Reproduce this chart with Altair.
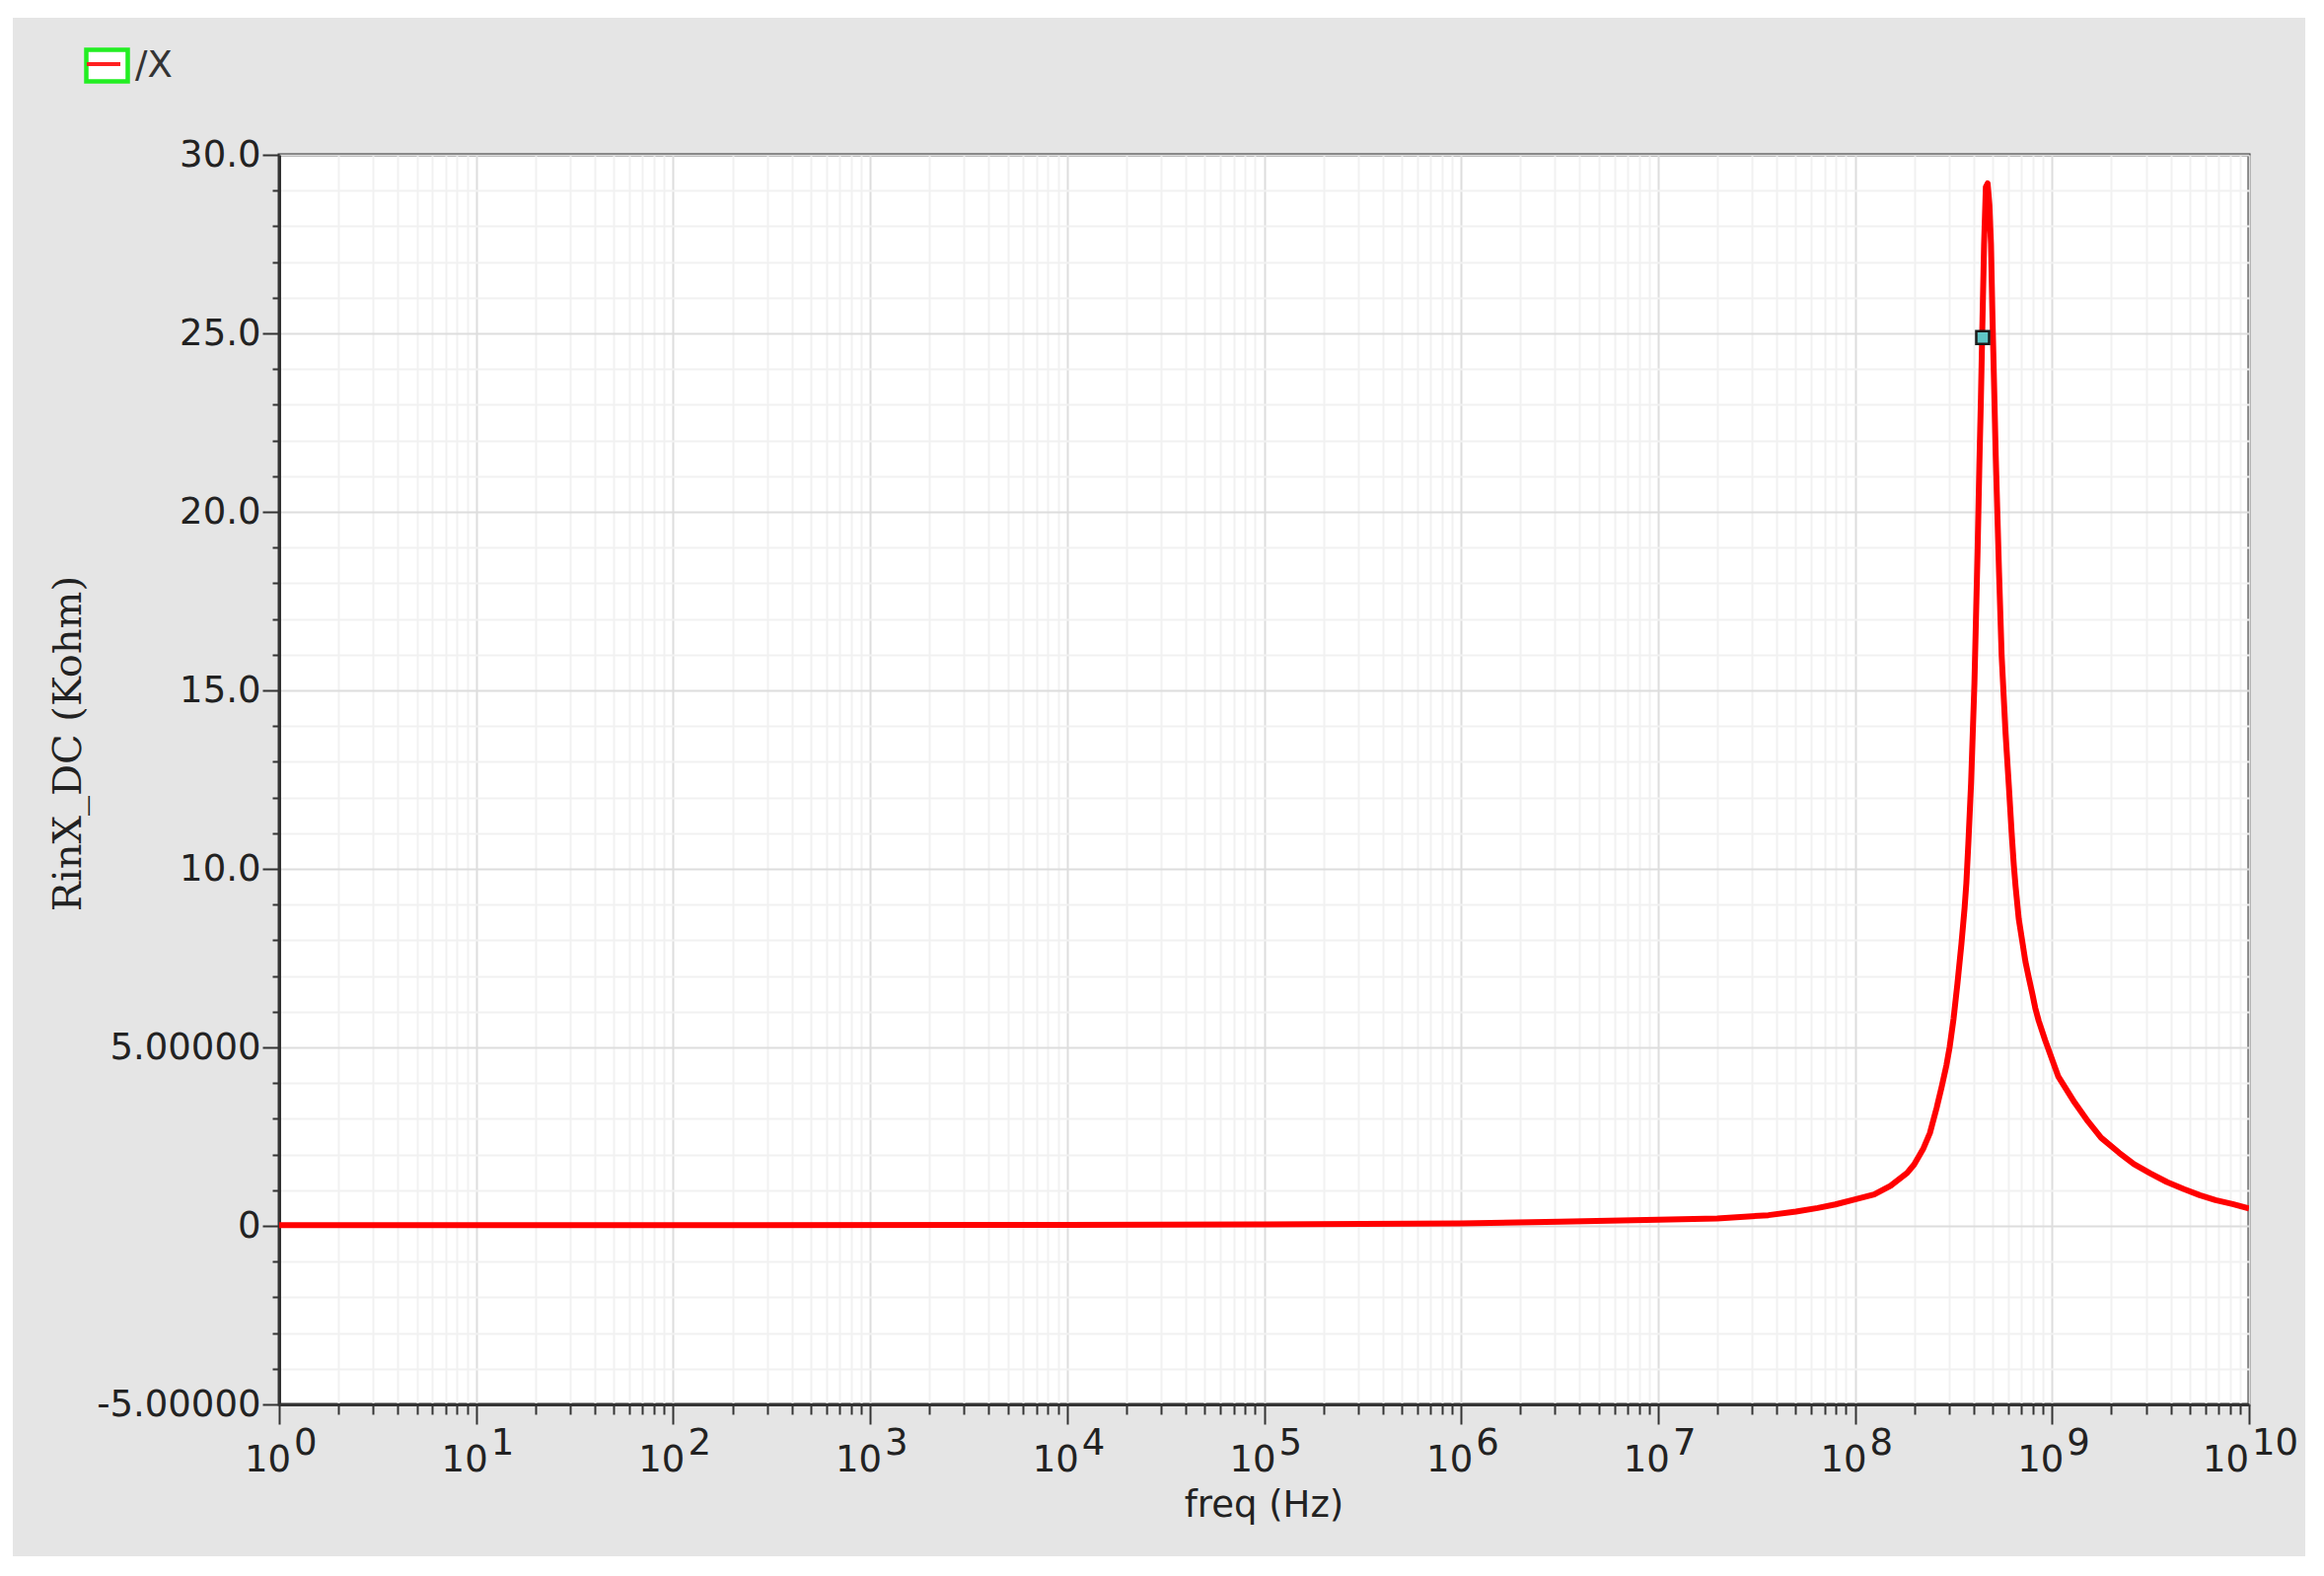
import altair as alt
import pandas as pd

# ---------------- data ----------------
freq_log10 = [0.0, 2.0, 4.0, 5.0, 6.0, 6.5, 7.0, 7.3, 7.56, 7.7, 7.81, 7.9, 8.0,
              8.097, 8.18, 8.264, 8.30, 8.347, 8.38, 8.414, 8.44, 8.464, 8.48,
              8.50, 8.52, 8.54, 8.556, 8.565, 8.575, 8.589, 8.606, 8.622, 8.631,
              8.639, 8.647, 8.655, 8.664, 8.673, 8.682, 8.690, 8.697, 8.706,
              8.714, 8.731, 8.744, 8.764, 8.781, 8.795, 8.806, 8.815, 8.831, 8.848,
              8.865, 8.882, 8.90, 8.915, 8.932, 8.965, 9.032, 9.115, 9.182, 9.249,
              9.34, 9.416, 9.50, 9.583, 9.67, 9.75, 9.83, 9.917, 10.0]
rin_kohm = [0.02, 0.02, 0.03, 0.04, 0.07, 0.12, 0.17, 0.21, 0.30, 0.40, 0.50, 0.60, 0.74,
            0.88, 1.12, 1.48, 1.72, 2.17, 2.6, 3.3, 3.9, 4.5, 5.0,
            5.8, 6.8, 7.9, 8.9, 9.6, 10.7, 12.4, 15.2, 18.9, 21.3,
            23.2, 25.4, 27.5, 29.1, 29.2, 28.6, 27.5, 25.6, 23.5,
            21.6, 18.3, 16.0, 13.8, 12.3, 11.0, 10.1, 9.5, 8.6, 8.0,
            7.4, 6.95, 6.5, 6.1, 5.75, 5.2, 4.18, 3.45, 2.93, 2.47,
            2.05, 1.73, 1.47, 1.23, 1.03, 0.86, 0.72, 0.61, 0.49]

marker_log10 = [8.648]
marker_kohm = [24.88]

x_decades = list(range(0, 11))
x_minor_mult = [1, 2, 3, 4, 5, 6, 7, 8, 9]
y_ticks = list(range(-5, 31))
y_domain = [-5, 30]

legend_label = "/X"
x_title = "freq (Hz)"
y_title = "RinX_DC (Kohm)"

# ---------------- layout ----------------
W, H = 1997, 1267
FONT = "DejaVu Sans"
FS = 37

curve_df = pd.DataFrame({"freq": [10.0 ** e for e in freq_log10], "rin": rin_kohm})
marker_df = pd.DataFrame({"freq": [10.0 ** e for e in marker_log10], "rin": marker_kohm})
x_tick_values = sorted([k * 10.0 ** e for e in x_decades[:-1] for k in x_minor_mult] + [10.0 ** x_decades[-1]])
lab_df = pd.DataFrame({"freq": [10.0 ** e for e in x_decades],
                       "exp": x_decades,
                       "exp_text": [str(e) for e in x_decades]})
one = pd.DataFrame({"a": [0]})

decade_test = "abs(log(datum.value)/LN10 - round(log(datum.value)/LN10)) < 0.001"
five_test = "datum.value % 5 == 0"

x_scale = alt.Scale(type="log", domain=[1, 1e10], nice=False)
y_scale = alt.Scale(domain=y_domain, nice=False, zero=False)

x_axis = alt.Axis(
    values=x_tick_values, labels=False, title=None, grid=True,
    gridColor={"condition": {"test": decade_test, "value": "#dddddd"}, "value": "#f1f1f1"},
    gridWidth=2,
    tickSize={"condition": {"test": decade_test, "value": 20}, "value": 10},
    tickColor="#333333", tickWidth=2, domainColor="#333333", domainWidth=3,
)
y_axis = alt.Axis(
    values=y_ticks, title=None, grid=True,
    gridColor={"condition": {"test": five_test, "value": "#dddddd"}, "value": "#f1f1f1"},
    gridWidth=2,
    tickSize={"condition": {"test": five_test, "value": 17}, "value": 7},
    tickColor="#333333", tickWidth=2, domainColor="#333333", domainWidth=3,
    labelExpr=("datum.value % 5 != 0 ? '' : datum.value == 0 ? '0' : "
               "abs(datum.value) >= 10 ? format(datum.value, '.1f') : "
               "(datum.value < 0 ? '-' : '') + format(abs(datum.value), '.5f')"),
    labelFont=FONT, labelFontSize=FS, labelColor="#222222", labelPadding=2,
    labelOverlap=False,
)

X = alt.X("freq:Q", scale=x_scale, axis=x_axis)
Y = alt.Y("rin:Q", scale=y_scale, axis=y_axis)

curve = alt.Chart(curve_df).mark_line(color="#ff0000", strokeWidth=6, clip=True,
                                      strokeJoin="round").encode(x=X, y=Y)
marker = alt.Chart(marker_df).mark_square(size=170, fill="#5fc6c6", stroke="#1a1a1a",
                                          strokeWidth=2.5, opacity=1).encode(x=X, y=Y)

single = lab_df[lab_df.exp < 10]
double = lab_df[lab_df.exp >= 10]

def base_layer(df, dx):
    return alt.Chart(df).mark_text(text="10", align="right", baseline="alphabetic", dx=dx,
                                   font=FONT, fontSize=FS, color="#222222").encode(
        x=X, y=alt.value(H + 68))

def exp_layer(df, dx):
    return alt.Chart(df).mark_text(align="left", baseline="alphabetic", dx=dx,
                                   font=FONT, fontSize=FS, color="#222222").encode(
        x=X, y=alt.value(H + 51), text="exp_text:N")

xlabels = base_layer(single, 12) + exp_layer(single, 15) + base_layer(double, 0) + exp_layer(double, 3)

xtitle = alt.Chart(one).mark_text(text=x_title, align="center", baseline="alphabetic",
                                  font=FONT, fontSize=FS, color="#222222").encode(
    x=alt.value(W / 2), y=alt.value(H + 114))
ytitle = alt.Chart(one).mark_text(text=y_title, align="center", baseline="middle", angle=270,
                                  font="DejaVu Serif", fontSize=40, color="#222222").encode(
    x=alt.value(-213), y=alt.value(597))

# legend (decoration)
leg_box = alt.Chart(one).mark_rect(fill="white", stroke="#22ee22", strokeWidth=4.5).encode(
    x=alt.value(-195.5), x2=alt.value(-153.5), y=alt.value(-106.5), y2=alt.value(-74.5))
leg_line = alt.Chart(one).mark_rule(color="#ff2020", strokeWidth=4).encode(
    x=alt.value(-195), x2=alt.value(-161), y=alt.value(-92))
leg_text = alt.Chart(one).mark_text(text=legend_label, align="left", baseline="alphabetic",
                                    font=FONT, fontSize=FS, color="#333333").encode(
    x=alt.value(-146), y=alt.value(-79))

# white page margins around the gray panel
strip_l = alt.Chart(one).mark_rect(fill="white").encode(
    x=alt.value(-275), x2=alt.value(-270), y=alt.value(-149), y2=alt.value(H + 154))
strip_t = alt.Chart(one).mark_rect(fill="white").encode(
    x=alt.value(-275), x2=alt.value(W + 57), y=alt.value(-149), y2=alt.value(-139))

chart = alt.layer(
    curve, marker, xlabels, xtitle, ytitle, leg_box, leg_line, leg_text, strip_l, strip_t
).properties(
    width=W, height=H,
    padding={"left": 275, "top": 149, "right": 57, "bottom": 154},
    autosize=alt.AutoSizeParams(type="none"),
    background="#e5e5e5",
).configure_view(
    fill="white", stroke="#333333", strokeWidth=3,
)

chart.save("out.html", embed_options={"renderer": "svg", "actions": False})
